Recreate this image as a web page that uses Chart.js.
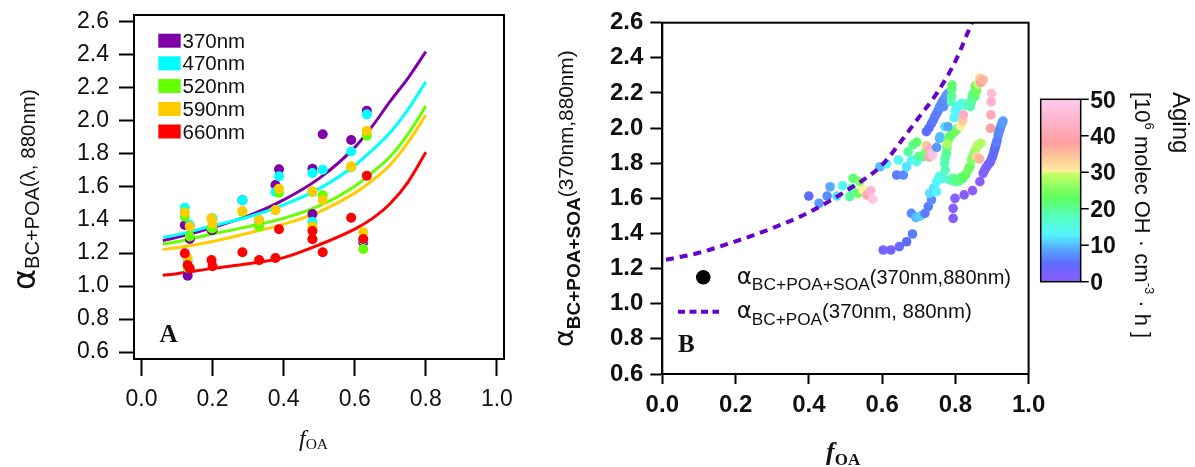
<!DOCTYPE html>
<html><head><meta charset="utf-8">
<script src="https://cdn.jsdelivr.net/npm/chart.js@4/dist/chart.umd.min.js"></script>
<style>
html,body{margin:0;padding:0;background:#fff;width:1195px;height:467px;overflow:hidden;position:relative}
canvas{position:absolute;top:0}
#ca{left:0}
#cb{left:540px}
#ov{position:absolute;left:0;top:0;pointer-events:none}
#ov text{white-space:pre}
</style></head><body>
<canvas id="ca" width="530" height="467"></canvas>
<canvas id="cb" width="520" height="467"></canvas>
<svg id="ov" width="1195" height="467" xmlns="http://www.w3.org/2000/svg"></svg>
<script>
// ---------------- DATA ----------------
// Panel A: measured points
const wavelengths = ['370nm', '470nm', '520nm', '590nm', '660nm'];
const fOA_A = [0.122, 0.13, 0.136, 0.197, 0.2, 0.284, 0.331, 0.377, 0.387, 0.481, 0.481, 0.51, 0.59, 0.624, 0.634];
const alpha370 = [1.37, 1.063, 1.285, 1.34, 1.34, 1.52, 1.395, 1.612, 1.707, 1.71, 1.436, 1.92, 1.885, 1.265, 2.062];
const alpha470 = [1.475, 1.15, 1.37, 1.41, 1.41, 1.52, 1.40, 1.57, 1.665, 1.685, 1.39, 1.705, 1.815, 1.28, 2.04];
const alpha520 = [1.42, 1.11, 1.30, 1.35, 1.35, 1.45, 1.36, 1.46, 1.565, 1.57, 1.29, 1.55, 1.72, 1.224, 1.91];
const alpha590 = [1.447, 1.17, 1.36, 1.41, 1.38, 1.455, 1.40, 1.46, 1.59, 1.575, 1.36, 1.52, 1.725, 1.326, 1.94];
const alpha660 = [1.198, 1.127, 1.107, 1.157, 1.12, 1.205, 1.157, 1.17, 1.344, 1.333, 1.283, 1.205, 1.414, 1.285, 1.668];
// Panel A: fitted curves
const fitX = [0.06, 0.1, 0.2, 0.3, 0.4, 0.5, 0.6, 0.65, 0.7, 0.75, 0.8];
const fit370 = [1.275, 1.295, 1.355, 1.425, 1.522, 1.652, 1.84, 1.97, 2.12, 2.26, 2.42];
const fit470 = [1.295, 1.31, 1.365, 1.418, 1.492, 1.59, 1.73, 1.825, 1.93, 2.07, 2.238];
const fit520 = [1.255, 1.268, 1.315, 1.36, 1.41, 1.485, 1.605, 1.69, 1.785, 1.92, 2.09];
const fit590 = [1.222, 1.232, 1.27, 1.32, 1.375, 1.45, 1.563, 1.64, 1.735, 1.87, 2.036];
const fit660 = [1.065, 1.075, 1.107, 1.135, 1.172, 1.25, 1.345, 1.41, 1.50, 1.63, 1.81];
const tickA_x = [0.0, 0.2, 0.4, 0.6, 0.8, 1.0];
const tickA_y = [0.6, 0.8, 1.0, 1.2, 1.4, 1.6, 1.8, 2.0, 2.2, 2.4, 2.6];

// Panel B: BC+POA+SOA points (f_OA, alpha, aging)
const bX = [
  0.400,0.428,0.450,0.458,0.477,0.492,0.517,0.512,0.521,0.535,0.539,0.548,0.559,0.569,0.574,
  0.603,0.624,0.647,0.667,0.683,
  0.594,0.612,0.640,0.658,0.667,0.645,0.680,0.694,0.671,0.685,0.695,0.700,0.712,0.720,0.721,0.728,0.730,0.735,0.738,
  0.680,0.692,0.705,0.717,0.726,0.735,0.730,0.741,0.749,0.749,0.756,0.767,0.785,0.795,0.794,0.803,0.810,0.816,0.821,0.828,0.835,0.838,0.840,0.844,0.848,0.853,0.853,0.857,0.862,0.865,
  0.749,0.757,0.758,0.771,0.772,0.771,0.772,0.776,0.777,0.780,0.784,0.790,0.799,0.808,0.778,
  0.721,0.728,0.735,0.740,0.744,0.749,0.753,0.757,0.762,0.768,0.766,0.771,0.775,0.780,0.789,0.790,0.790,0.791,
  0.780,0.797,0.800,0.808,0.817,0.826,0.835,0.841,0.844,0.846,0.849,0.853,0.852,0.855,0.858,0.862,0.867,0.870,0.876,
  0.815,0.820,0.822,
  0.896,0.897,0.898,0.899,
  0.794,0.794,0.799,0.824,0.847,0.867,0.876,0.880,0.884,0.889,0.893,0.896,0.900,0.903,0.906,0.908,0.910,0.912,0.914,0.917,0.919,0.921,0.923,0.925,0.928,0.930,
  0.858,0.866,0.870];
const bY = [
  1.613,1.572,1.613,1.666,1.613,1.672,1.657,1.610,1.714,1.629,1.695,1.648,1.619,1.644,1.595,
  1.306,1.306,1.325,1.353,1.397,
  1.780,1.796,1.733,1.733,1.780,1.818,1.818,1.809,1.866,1.904,1.920,1.840,1.837,1.870,1.900,1.835,1.880,1.860,1.845,
  1.515,1.490,1.500,1.515,1.553,1.591,1.629,1.660,1.638,1.695,1.724,1.714,1.705,1.700,1.714,1.695,1.700,1.720,1.714,1.735,1.762,1.775,1.780,1.818,1.840,1.837,1.866,1.885,1.904,1.904,
  1.890,1.942,1.951,2.008,1.760,1.800,1.830,1.856,1.890,1.930,1.951,1.965,1.980,2.000,1.910,
  1.980,2.000,2.027,2.045,2.065,2.083,2.100,2.120,2.141,2.122,2.155,2.170,2.185,2.198,2.150,2.180,2.220,2.245,
  2.008,2.060,2.100,2.122,2.141,2.130,2.141,2.122,2.150,2.180,2.198,2.179,2.200,2.240,2.210,2.250,2.283,2.260,2.274,
  2.010,2.040,2.075,
  1.999,2.075,2.150,2.198,
  1.486,1.543,1.600,1.620,1.644,1.695,1.743,1.760,1.775,1.790,1.800,1.809,1.830,1.847,1.870,1.885,1.900,1.915,1.930,1.960,1.975,1.990,2.000,2.015,2.030,2.040,
  1.837,1.825,1.913];
const bAge = [
  5,8,7,9,12,14,19,20,22,24,25,30,40,45,48,
  2,3,4,5,6,
  10,13,6,7,12,14,13,15,20,21,22,21,20,25,34,40,42,46,48,
  7,10,11,6,6,7,12,12,13,13,14,15,17,18,20,20,21,22,22,23,24,24,24,25,25,26,26,27,28,29,
  8,9,10,12,18,18,19,20,21,21,22,23,24,24,28,
  5,5,5,6,6,6,6,7,7,7,7,7,8,8,18,20,21,22,
  9,14,13,13,14,16,18,18,19,20,20,21,22,23,24,29,33,38,36,
  30,34,42,
  38,41,44,46,
  1,1,1,1,0,0,1,1,2,2,3,3,4,4,5,5,5,6,6,6,7,7,7,7,8,8,
  33,36,28];
// Panel B: BC+POA reference curve (370nm, 880nm)
const refX = [0.01, 0.1, 0.2, 0.3, 0.4, 0.5, 0.6, 0.65, 0.7, 0.75, 0.8, 0.845];
const refY = [1.25, 1.29, 1.355, 1.43, 1.52, 1.64, 1.79, 1.92, 2.06, 2.2, 2.38, 2.6];
const tickB_x = [0.0, 0.2, 0.4, 0.6, 0.8, 1.0];
const tickB_y = [0.6, 0.8, 1.0, 1.2, 1.4, 1.6, 1.8, 2.0, 2.2, 2.4, 2.6];
const agingTicks = [0, 10, 20, 30, 40, 50];

// ---------------- STYLE ----------------
const waveColors = ['#7f00a6', '#00ffff', '#66ff00', '#ffcc00', '#ff0000'];
const agingStops = [[0,'#8f5bff'],[5,'#5f6bff'],[9,'#55aaff'],[13,'#55f5ff'],[18,'#55ffbb'],[23,'#5dff5d'],[29.9,'#ccff66'],[30,'#fff0a0'],[34,'#ffc89a'],[38,'#ff9f9f'],[44,'#ffb3cc'],[50,'#ffccee']];
function hex2rgb(h){return [parseInt(h.slice(1,3),16),parseInt(h.slice(3,5),16),parseInt(h.slice(5,7),16)];}
function ageColor(v){
  v=Math.max(0,Math.min(50,v));
  for(let i=0;i<agingStops.length-1;i++){
    const [a,ca]=agingStops[i],[b,cb]=agingStops[i+1];
    if(v>=a&&v<=b){const t=(v-a)/(b-a||1);const A=hex2rgb(ca),B=hex2rgb(cb);
      return 'rgb('+A.map((c,k)=>Math.round(c+(B[k]-c)*t)).join(',')+')';}
  }
  return agingStops[agingStops.length-1][1];
}
const framePlugin = { id:'frame', afterDraw(chart){ const {ctx, chartArea:a} = chart; ctx.save(); ctx.strokeStyle='#000'; ctx.lineWidth=2; ctx.strokeRect(a.left, a.top, a.right-a.left, a.bottom-a.top); ctx.restore(); } };
const fmt = v => Number(v).toFixed(1);

// ---------------- PANEL A ----------------
const seriesA = [alpha370, alpha470, alpha520, alpha590, alpha660];
const fitsA = [fit370, fit470, fit520, fit590, fit660];
const dsA = [];
fitsA.forEach((f,i)=>dsA.push({label:wavelengths[i]+' fit', data:fitX.map((x,k)=>({x, y:f[k]})), showLine:true, borderColor:waveColors[i], borderWidth:3, pointRadius:0, cubicInterpolationMode:'monotone', order:20-i}));
seriesA.forEach((s,i)=>dsA.push({label:wavelengths[i], data:fOA_A.map((x,k)=>({x, y:s[k]})), backgroundColor:waveColors[i], borderWidth:0, pointRadius:5, pointHoverRadius:5, order:10-i}));

new Chart(document.getElementById('ca'), {
  type:'scatter', data:{datasets:dsA},
  options:{ responsive:false, animation:false, devicePixelRatio:1,
    layout:{padding:{top:15,right:26,bottom:0,left:0}},
    plugins:{legend:{display:false}, tooltip:{enabled:false}},
    scales:{
      x:{type:'linear', min:-0.021, max:1.02,
        afterBuildTicks:s=>{s.ticks=tickA_x.map(v=>({value:v}));},
        afterFit:s=>{s.height=108; s.paddingLeft=0; s.paddingRight=0;},
        grid:{drawOnChartArea:false, drawTicks:true, tickLength:17, tickWidth:2, tickColor:'#000'},
        border:{display:true, color:'#000', width:2},
        ticks:{color:'#111', font:{family:'Liberation Sans', size:23}, padding:10, maxRotation:0, autoSkip:false, callback:fmt}},
      y:{type:'linear', min:0.558, max:2.642,
        afterBuildTicks:s=>{s.ticks=tickA_y.map(v=>({value:v}));},
        afterFit:s=>{s.width=134; s.paddingTop=0; s.paddingBottom=0;},
        grid:{drawOnChartArea:false, drawTicks:true, tickLength:15, tickWidth:2, tickColor:'#000'},
        border:{display:true, color:'#000', width:2},
        ticks:{color:'#111', font:{family:'Liberation Sans', size:23}, padding:10, autoSkip:false, callback:fmt}}
    }},
  plugins:[framePlugin]
});

// ---------------- PANEL B ----------------
new Chart(document.getElementById('cb'), {
  type:'scatter',
  data:{datasets:[
    {label:'αBC+POA(370nm, 880nm)', data:refX.map((x,k)=>({x, y:refY[k]})), showLine:true, borderColor:'#6600cc', borderWidth:4, borderDash:[8,6], pointRadius:0, cubicInterpolationMode:'monotone', order:1},
    {label:'αBC+POA+SOA(370nm,880nm)', data:bX.map((x,k)=>({x, y:bY[k]})), backgroundColor:bAge.map(ageColor), borderWidth:0, pointRadius:4.8, pointHoverRadius:4.8, order:2}
  ]},
  options:{ responsive:false, animation:false, devicePixelRatio:1,
    layout:{padding:{top:22.7,right:31.4,bottom:0,left:0}},
    plugins:{legend:{display:false}, tooltip:{enabled:false}},
    scales:{
      x:{type:'linear', min:0, max:1,
        afterBuildTicks:s=>{s.ticks=tickB_x.map(v=>({value:v}));},
        afterFit:s=>{s.height=93; s.paddingLeft=0; s.paddingRight=0;},
        grid:{drawOnChartArea:false, drawTicks:true, tickLength:10, tickWidth:2, tickColor:'#000'},
        border:{display:true, color:'#000', width:2},
        ticks:{color:'#111', font:{family:'Liberation Sans', size:24, weight:'bold'}, padding:7, maxRotation:0, autoSkip:false, callback:fmt}},
      y:{type:'linear', min:0.6, max:2.6,
        afterBuildTicks:s=>{s.ticks=tickB_y.map(v=>({value:v}));},
        afterFit:s=>{s.width=122.3; s.paddingTop=0; s.paddingBottom=0;},
        grid:{drawOnChartArea:false, drawTicks:true, tickLength:12, tickWidth:2, tickColor:'#000'},
        border:{display:true, color:'#000', width:2},
        ticks:{color:'#111', font:{family:'Liberation Sans', size:24, weight:'bold'}, padding:7, autoSkip:false, callback:fmt}}
    }},
  plugins:[framePlugin]
});

// ---------------- TEXT / LEGENDS / COLORBAR (SVG overlay) ----------------
const ov = document.getElementById('ov');
let s = '';
// Panel A legend
const legY = [40.7, 63.3, 86, 109, 131.5];
wavelengths.forEach((w,i)=>{
  s += `<rect x="158.3" y="${legY[i]-7}" width="22.4" height="14" fill="${waveColors[i]}"/>`;
  s += `<text x="182.5" y="${legY[i]+7}" font-family="Liberation Sans" font-size="20.5" fill="#111">${w}</text>`;
});
s += `<text x="159.5" y="341.5" font-family="Liberation Serif" font-weight="bold" font-size="25" fill="#111">A</text>`;
// Panel A axis titles
s += `<text x="299" y="446" font-family="Liberation Serif" font-size="24" fill="#111"><tspan font-style="italic">f</tspan><tspan font-size="15.5" dy="3">OA</tspan></text>`;
s += `<text transform="translate(35,290) rotate(-90)" font-family="Liberation Sans" fill="#111"><tspan font-family="DejaVu Sans" font-size="32">α</tspan><tspan font-size="20" dy="4">BC+POA</tspan><tspan font-size="20.5" dy="-4">(λ, 880nm)</tspan></text>`;
// Panel B legend
s += `<circle cx="703.3" cy="277.3" r="7.3" fill="#000"/>`;
s += `<text x="736.7" y="284" font-family="Liberation Sans" fill="#111"><tspan font-family="DejaVu Sans" font-size="23">α</tspan><tspan font-size="17.4" dy="6">BC+POA+SOA</tspan><tspan font-size="20" dy="-6">(370nm,880nm)</tspan></text>`;
s += `<line x1="678" y1="311.7" x2="719" y2="311.7" stroke="#6600cc" stroke-width="4" stroke-dasharray="7 4.5"/>`;
s += `<text x="736.7" y="318" font-family="Liberation Sans" fill="#111"><tspan font-family="DejaVu Sans" font-size="23">α</tspan><tspan font-size="17.2" dy="7">BC+POA</tspan><tspan font-size="20.4" dy="-7">(370nm, 880nm)</tspan></text>`;
s += `<text x="678" y="352" font-family="Liberation Serif" font-weight="bold" font-size="25" fill="#111">B</text>`;
// Panel B axis titles
s += `<text x="826" y="460" font-family="Liberation Serif" font-weight="bold" fill="#111"><tspan font-style="italic" font-size="26">f</tspan><tspan font-size="17" dy="5">OA</tspan></text>`;
s += `<text transform="translate(573,347) rotate(-90)" font-family="Liberation Sans" fill="#111"><tspan font-family="DejaVu Sans" font-size="27">α</tspan><tspan font-weight="bold" font-size="19" dy="7">BC+POA+SOA</tspan><tspan font-size="20.8" dy="-7">(370nm,880nm)</tspan></text>`;
// Colorbar
const cbX=1040.7, cbTop=99.3, cbBot=281.7, cbW=40;
let stops='';
agingStops.forEach(([v,c])=>{ stops += `<stop offset="${(v/50).toFixed(4)}" stop-color="${c}"/>`; });
s += `<defs><linearGradient id="agingGrad" x1="0" y1="1" x2="0" y2="0">${stops}</linearGradient></defs>`;
s += `<rect x="${cbX}" y="${cbTop}" width="${cbW}" height="${cbBot-cbTop}" fill="url(#agingGrad)" stroke="#000" stroke-width="1.5"/>`;
agingTicks.forEach(v=>{
  const y = cbBot - (v/50)*(cbBot-cbTop);
  s += `<line x1="${cbX+cbW}" y1="${y}" x2="${cbX+cbW+8}" y2="${y}" stroke="#000" stroke-width="1.5"/>`;
  s += `<text x="${cbX+cbW+9.5}" y="${y+8.2}" font-family="Liberation Sans" font-weight="bold" font-size="23" fill="#111">${v}</text>`;
});
s += `<text transform="translate(1173,92) rotate(90)" font-family="Liberation Sans" font-size="24" fill="#111">Aging</text>`;
s += `<text transform="translate(1135,92) rotate(90)" font-family="Liberation Sans" font-size="22" fill="#111">[10<tspan font-size="13" dy="-10">6</tspan><tspan dy="10"> molec OH · cm</tspan><tspan font-size="13" dy="-10">-3</tspan><tspan dy="10"> · h ]</tspan></text>`;
ov.innerHTML = s;
</script>
</body></html>
